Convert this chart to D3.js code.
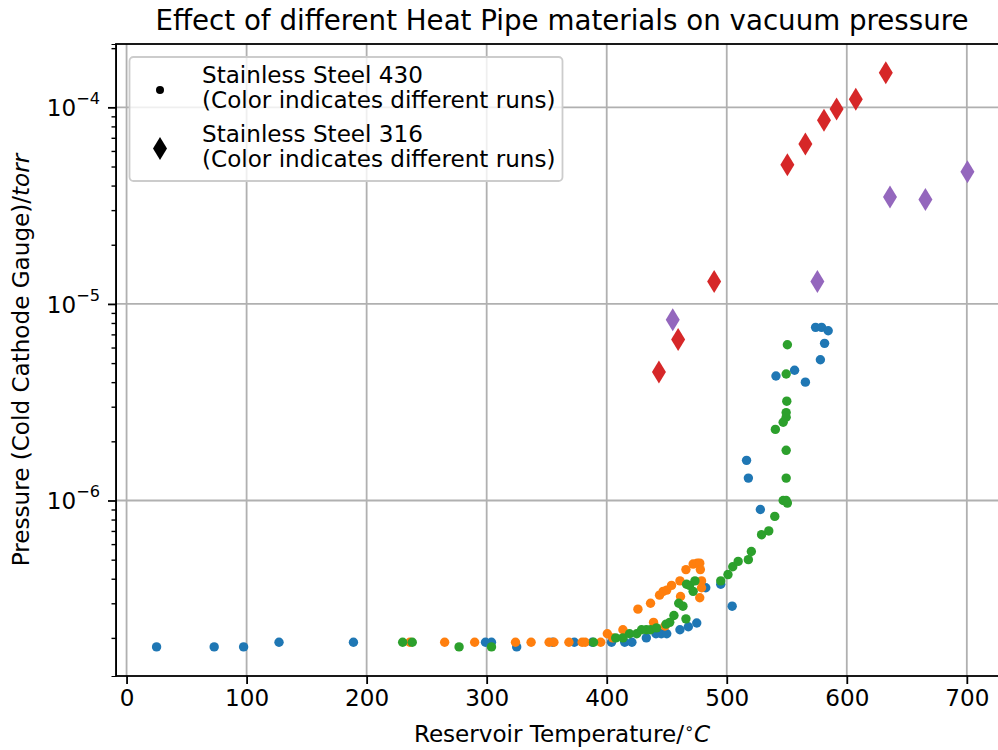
<!DOCTYPE html>
<html>
<head>
<meta charset="utf-8">
<script src="https://cdn.jsdelivr.net/npm/d3@7"></script>
<style>
  body { margin: 0; background: #fff; }
  text { font-family: "DejaVu Sans", sans-serif; fill: #000; }
</style>
</head>
<body>
<div id="chart"></div>
<script>
// [temperature °C, pressure torr]
var ss430Run1 = [[25,1.8e-7],[73,1.8e-7],[97.5,1.8e-7],[127,1.9e-7],[189,1.9e-7],[299,1.9e-7],[304,1.9e-7],[325,1.8e-7],
    [355,1.9e-7],[373,1.9e-7],[388,1.9e-7],[404,1.9e-7],[415,1.9e-7],[421,1.9e-7],[433,2.0e-7],[441,2.1e-7],[445.5,2.1e-7],
    [450,2.1e-7],[461,2.2e-7],[468,2.28e-7],[475,2.38e-7],[482.5,3.6e-7],[495,3.75e-7],[504.5,2.9e-7],[516.5,1.6e-6],
    [518,1.3e-6],[528,9.0e-7],[541,4.3e-6],[556.5,4.6e-6],[565.5,4.0e-6],[574,7.6e-6],[579,7.6e-6],[584.5,7.3e-6],
    [581.5,6.3e-6],[578,5.2e-6]];
var ss430Run2 = [[236,1.9e-7],[265,1.9e-7],[290,1.9e-7],[324,1.9e-7],[337,1.9e-7],[352,1.9e-7],[356,1.9e-7],[368.5,1.9e-7],
    [379.5,1.9e-7],[382,1.9e-7],[395,1.9e-7],[400.5,2.1e-7],[405,2.0e-7],[413.5,2.2e-7],[426,2.8e-7],[436.5,3.0e-7],
    [439,2.4e-7],[444,3.3e-7],[447,3.45e-7],[448.5,2.3e-7],[450,3.5e-7],[454,3.7e-7],[461,3.9e-7],[461.5,3.25e-7],
    [466,4.45e-7],[472,4.75e-7],[475.5,4.8e-7],[477.5,4.8e-7],[478,4.45e-7],[479,3.9e-7],[479,3.6e-7],[477.5,3.2e-7]];
var ss430Run3 = [[230,1.9e-7],[238,1.9e-7],[277,1.8e-7],[304,1.8e-7],[389,1.9e-7],[407.5,2.0e-7],[413.5,2.0e-7],[419,2.1e-7],
    [425,2.1e-7],[429,2.2e-7],[433,2.2e-7],[436.5,2.2e-7],[441.5,2.25e-7],[449.5,2.35e-7],[452.5,2.4e-7],[456,2.6e-7],
    [460,3.0e-7],[463.5,2.9e-7],[466,2.5e-7],[466.5,3.75e-7],[469,3.7e-7],[472,3.45e-7],[473.5,3.9e-7],[495,3.9e-7],
    [501,4.2e-7],[505,4.6e-7],[509.5,4.9e-7],[518,5.0e-7],[520.5,5.5e-7],[529,6.7e-7],[535,7.0e-7],[540,8.3e-7],
    [547,1.0e-6],[549.5,1.0e-6],[550.5,9.7e-7],[549.5,1.3e-6],[549.5,1.8e-6],[540.5,2.3e-6],[547,2.5e-6],[549.5,2.65e-6],
    [549.5,2.8e-6],[550,3.2e-6],[549.5,4.4e-6],[550.5,6.2e-6]];
var ss316Run1 = [[443.5,4.5e-6],[459.5,6.6e-6],[489.5,1.3e-5],[550.5,5.1e-5],[565.5,6.5e-5],[581,8.6e-5],[591.5,9.8e-5],
    [607.5,1.1e-4],[632.5,1.5e-4]];
var ss316Run2 = [[455,8.3e-6],[575.5,1.3e-5],[636,3.5e-5],[665.5,3.4e-5],[700.5,4.7e-5]];

var xTicks = [0, 100, 200, 300, 400, 500, 600, 700];
var yTickExps = [-4, -5, -6];
var legendLabels = [["Stainless Steel 430", "(Color indicates different runs)"],
                    ["Stainless Steel 316", "(Color indicates different runs)"]];

(function() {
    var W = 998, H = 750;
    var margin = {top: 44, left: 116};
    var width = 892, height = 632;
    var fs = 23.1; // 10pt at the figure's dpi

    var svg = d3.select("#chart").append("svg")
        .attr("width", W)
        .attr("height", H);

    var g = svg.append("g")
        .attr("transform", "translate(" + margin.left + "," + margin.top + ")");

    var x = d3.scaleLinear().domain([-8.8, 734.3]).range([0, width]);
    var y = d3.scaleLog().domain([1.28e-7, 2.1e-4]).range([height, 0]);

    // grid
    g.selectAll(".vgrid").data(xTicks).enter().append("line")
        .attr("x1", d => x(d)).attr("x2", d => x(d))
        .attr("y1", 0).attr("y2", height)
        .attr("stroke", "#b0b0b0").attr("stroke-width", 1.8);
    g.selectAll(".hgrid").data(yTickExps).enter().append("line")
        .attr("x1", 0).attr("x2", width)
        .attr("y1", d => y(Math.pow(10, d))).attr("y2", d => y(Math.pow(10, d)))
        .attr("stroke", "#b0b0b0").attr("stroke-width", 1.8);

    // axes
    var xAxis = g.append("g")
        .attr("transform", "translate(0," + height + ")")
        .call(d3.axisBottom(x).tickValues(xTicks).tickSize(8).tickPadding(6));
    xAxis.selectAll("text").attr("font-size", fs).style("font-family", "DejaVu Sans");

    var minor = [];
    [-7, -6, -5, -4].forEach(function(e) {
        for (var k = 2; k <= 9; k++) {
            var v = k * Math.pow(10, e);
            if (v > y.domain()[0] && v < y.domain()[1]) minor.push(v);
        }
    });
    g.append("g")
        .call(d3.axisLeft(y).tickValues(minor).tickSize(4.5).tickFormat(""))
        .selectAll("line").attr("stroke-width", 1.4);

    var yAxis = g.append("g")
        .call(d3.axisLeft(y).tickValues(yTickExps.map(e => Math.pow(10, e))).tickSize(8).tickFormat(""));
    yAxis.selectAll(".tick").each(function(d) {
        var t = d3.select(this).append("text")
            .attr("x", -16).attr("dy", "0.36em")
            .attr("text-anchor", "end")
            .attr("font-size", fs)
            .attr("fill", "#000");
        t.append("tspan").text("10");
        t.append("tspan").attr("font-size", 16.2).attr("dy", "-0.75em")
            .text("\u2212" + (-Math.round(Math.log10(d))));
    });

    [xAxis, yAxis].forEach(function(a) {
        a.selectAll("line").attr("stroke-width", 1.8);
        a.select(".domain").remove();
    });

    // frame
    g.append("rect")
        .attr("width", width).attr("height", height)
        .attr("fill", "none").attr("stroke", "#000").attr("stroke-width", 1.8);

    var colors = ["#1f77b4", "#ff7f0e", "#2ca02c", "#d62728", "#9467bd"];
    var diamond = "M0,-11.5L7,0L0,11.5L-7,0Z";

    [ss430Run1, ss430Run2, ss430Run3].forEach(function(run, i) {
        g.append("g").selectAll("circle").data(run).enter().append("circle")
            .attr("cx", d => x(d[0]))
            .attr("cy", d => y(d[1]))
            .attr("r", 4.7)
            .attr("fill", colors[i]);
    });
    [ss316Run1, ss316Run2].forEach(function(run, i) {
        g.append("g").selectAll("path").data(run).enter().append("path")
            .attr("d", diamond)
            .attr("transform", d => "translate(" + x(d[0]) + "," + y(d[1]) + ")")
            .attr("fill", colors[i + 3]);
    });

    // legend
    var lg = svg.append("g").attr("transform", "translate(129.5,57)");
    lg.append("rect")
        .attr("width", 433).attr("height", 124).attr("rx", 4)
        .attr("fill", "#fff").attr("fill-opacity", 0.8)
        .attr("stroke", "#cccccc").attr("stroke-width", 1.8);
    lg.append("circle").attr("cx", 30.5).attr("cy", 33).attr("r", 4).attr("fill", "#000");
    lg.append("path").attr("d", diamond).attr("transform", "translate(30.5,91.5)").attr("fill", "#000");
    legendLabels.forEach(function(lines, i) {
        lines.forEach(function(s, j) {
            lg.append("text")
                .attr("x", 72.5)
                .attr("y", 26 + i * 59 + j * 24.5)
                .attr("font-size", fs)
                .text(s);
        });
    });

    // title and labels
    svg.append("text")
        .attr("x", margin.left + width / 2).attr("y", 29.5)
        .attr("text-anchor", "middle").attr("font-size", 27.7)
        .text("Effect of different Heat Pipe materials on vacuum pressure");

    var xl = svg.append("text")
        .attr("x", margin.left + width / 2).attr("y", 742)
        .attr("text-anchor", "middle").attr("font-size", fs);
    xl.append("tspan").text("Reservoir Temperature/");
    xl.append("tspan").attr("font-size", 16).attr("dy", "-0.5em").text("\u2218");
    xl.append("tspan").attr("dy", "0.33em").attr("font-style", "italic").text("C");

    var yl = svg.append("text")
        .attr("transform", "translate(29," + (margin.top + height / 2) + ") rotate(-90)")
        .attr("text-anchor", "middle").attr("font-size", fs);
    yl.append("tspan").text("Pressure (Cold Cathode Gauge)/");
    yl.append("tspan").attr("font-style", "italic").text("torr");
})();
</script>
</body>
</html>
